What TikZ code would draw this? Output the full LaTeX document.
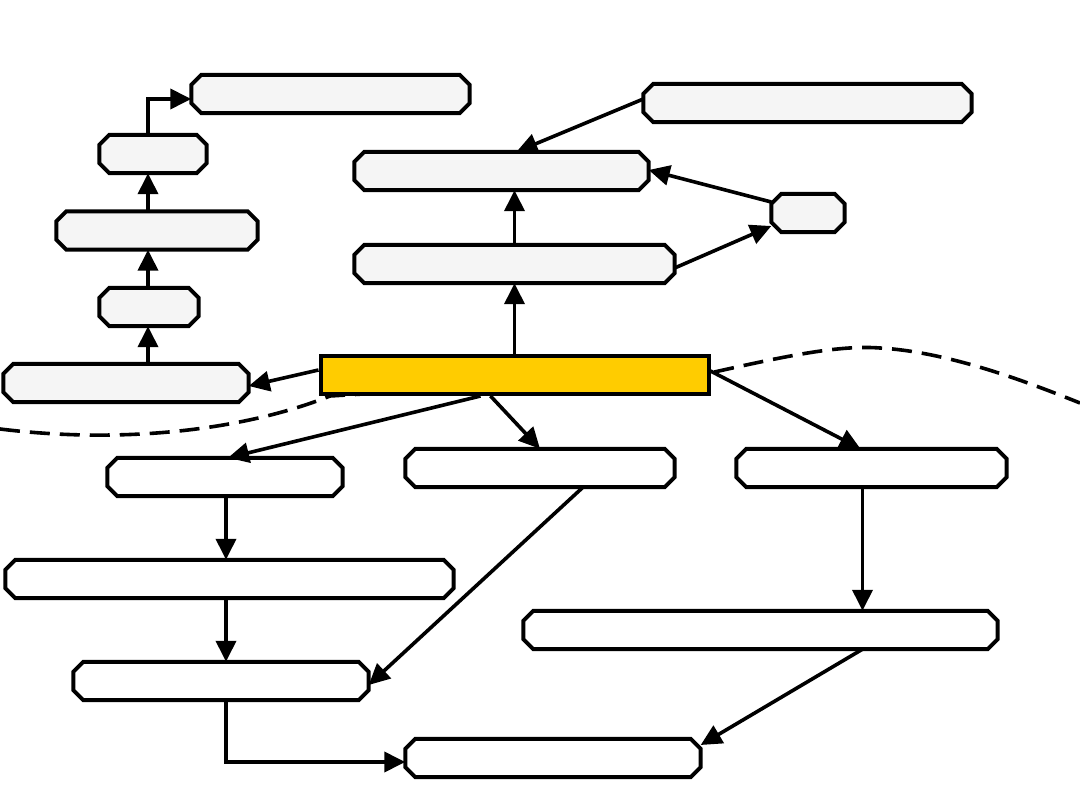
\documentclass[tikz,border=0pt]{standalone}
\usetikzlibrary{arrows.meta,calc}
\definecolor{boxgray}{HTML}{F5F5F5}
\definecolor{boxyellow}{HTML}{FFCC00}
\tikzset{
  anchorbox/.style={rectangle, inner sep=0pt, minimum height=38pt},
  outline/.style={draw=black, line width=4pt, line join=miter},
  ybox/.style={rectangle, draw=black, line width=4pt, fill=boxyellow, inner sep=0pt, minimum height=38pt},
  conn/.style={line width=3.6pt, -{Triangle[length=21pt,width=20pt]}},
  border/.style={line width=3.6pt, dash pattern=on 20pt off 10pt}
}
\newcommand\chbox[5]{%
  \node[anchorbox, minimum width=#4pt] (#1) at (#2,#3) {};
  \draw[outline, fill=#5] ($(#1.north west)+(10,0)$) -- ($(#1.north east)+(-10,0)$)
    -- ($(#1.north east)+(0,10)$) -- ($(#1.south east)+(0,-10)$)
    -- ($(#1.south east)+(-10,0)$) -- ($(#1.south west)+(10,0)$)
    -- ($(#1.south west)+(0,-10)$) -- ($(#1.north west)+(0,10)$) -- cycle;
}
\begin{document}
\begin{tikzpicture}[x=1pt,y=-1pt]
\useasboundingbox (0,0) rectangle (1080,810);
% dashed boundary curve (behind central box)
\draw[border] (0,429) .. controls (130,445) and (250,428) .. (330,396) -- (710,373)
  .. controls (790,355) and (840,345) .. (880,348) .. controls (950,352) and (1030,383) .. (1080,403);
% upper boxes
\chbox{A}{330.5}{94}{278}{boxgray}
\chbox{B}{153}{154}{107}{boxgray}
\chbox{C}{157}{230.5}{201}{boxgray}
\chbox{D}{149}{307}{99}{boxgray}
\chbox{E}{126}{383}{245}{boxgray}
\chbox{F}{501.5}{171}{294}{boxgray}
\chbox{G}{807.5}{103}{328}{boxgray}
\chbox{H}{808}{213}{73}{boxgray}
\chbox{I}{514.5}{264}{320}{boxgray}
% central box
\node[ybox, minimum width=388pt] (Y) at (514.5,375) {};
% lower boxes
\chbox{J}{225}{477}{235}{white}
\chbox{K}{540}{468}{269}{white}
\chbox{L}{871.5}{468}{270}{white}
\chbox{M}{229.5}{579}{448}{white}
\chbox{N}{221}{681}{295}{white}
\chbox{O}{760.5}{630}{474}{white}
\chbox{P}{553}{758}{295}{white}
\coordinate (col) at (148,0);
\coordinate (lcol) at (226,0);
% upper connectors
\draw[conn] (col |- B.north) |- ($(A.west)+(0,5)$);
\draw[conn] (col |- C.north) -- (col |- B.south);
\draw[conn] (col |- D.north) -- (col |- C.south);
\draw[conn] (col |- E.north) -- (col |- D.south);
\draw[conn] ($(Y.west)+(0,-5)$) -- ($(E.east)+(0,3)$);
\draw[conn] (Y.north) -- (I.north |- I.south);
\draw[conn] (I.north) -- (I.north |- F.south);
\draw[conn] ($(G.west)+(0,-4)$) -- ($(F.north)+(15,0)$);
\draw[conn] ($(H.west)+(0,-11)$) -- ($(F.east)+(0,-1)$);
\draw[conn] ($(I.east)+(0,4)$) -- ($(H.west)+(0,13)$);
% lower connectors
\draw[conn] ($(Y.south)+(-34,0)$) -- ($(J.north)+(3,0)$);
\draw[conn] ($(Y.south)+(-24,0)$) -- (K.north);
\draw[conn] ($(Y.east)+(0,-4)$) -- ($(L.north)+(-11,0)$);
\draw[conn] (lcol |- J.south) -- (lcol |- M.north);
\draw[conn] (lcol |- M.south) -- (lcol |- N.north);
\draw[conn] ($(K.south)+(43,0)$) -- ($(N.east)+(0,4)$);
\draw[conn] ($(L.south)+(-9,0)$) -- ($(L.south |- O.north)+(-9,0)$);
\draw[conn] ($(O.south)+(102,0)$) -- ($(P.east)+(0,-13)$);
\draw[conn] (lcol |- N.south) |- ($(P.west)+(0,4)$);
\end{tikzpicture}
\end{document}
